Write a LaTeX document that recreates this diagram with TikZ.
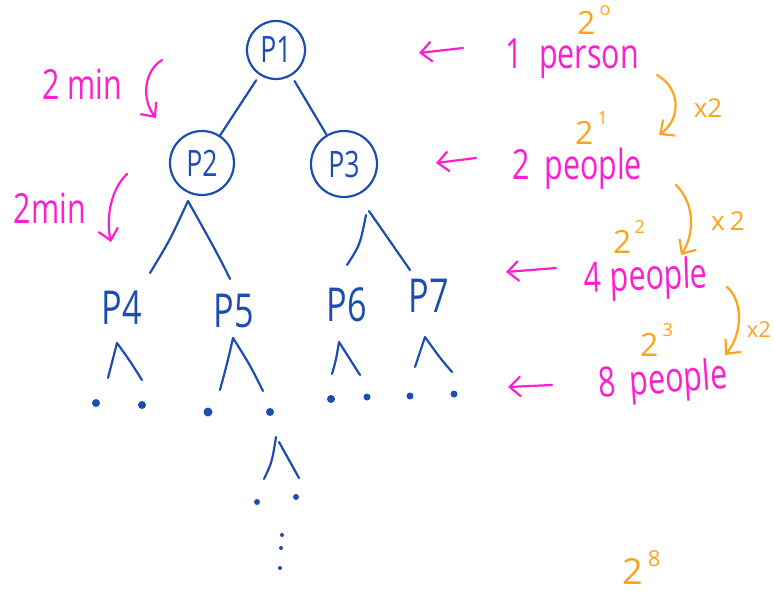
\documentclass[tikz,border=0pt]{standalone}
\usepackage{fontspec}
\setmainfont{Open Sans}
\usetikzlibrary{arrows.meta}
\definecolor{inkblue}{HTML}{1D4DB3}
\definecolor{inkpink}{HTML}{FF1ECF}
\definecolor{inkorange}{HTML}{FFA31A}
\newcommand{\powtwo}[3]{#1\hspace{#3}\raisebox{0.6em}{\fontsize{18}{18}\selectfont #2}}
\newcommand{\stretchtxt}[1]{\scalebox{0.95}[1.3]{#1}}
\begin{document}
\begin{tikzpicture}[x=1pt,y=-1pt,
  bline/.style={draw=inkblue, line width=2.2pt, line cap=round, line join=round},
  pcirc/.style={circle, draw=inkblue, line width=2.2pt, text=inkblue, inner sep=0pt,
    font=\fontsize{28}{28}\selectfont},
  plab/.style={text=inkblue, inner sep=0pt, font=\fontsize{36}{36}\selectfont},
  pinktext/.style={text=inkpink, inner sep=0pt, font=\fontsize{32}{32}\selectfont},
  orangetext/.style={text=inkorange, inner sep=0pt, font=\fontsize{32}{32}\selectfont},
  timestext/.style={text=inkorange, inner sep=0pt, font=\fontsize{26}{26}\selectfont},
  pinkarrow/.style={draw=inkpink, line width=2.2pt, line cap=round,
    -{Straight Barb[length=11pt,width=20pt,line width=2.2pt]}},
  orangearrow/.style={draw=inkorange, line width=2.2pt, line cap=round,
    -{Straight Barb[length=11pt,width=20pt,line width=2.2pt]}},
  bigdot/.style={circle, fill=inkblue, inner sep=0pt, minimum size=8pt},
  smalldot/.style={circle, fill=inkblue, inner sep=0pt, minimum size=4pt}
]
\useasboundingbox (0,0) rectangle (774,594);

% ---------- tree ----------
\node[pcirc, minimum size=58pt] (p1) at (276,50) {\stretchtxt{P1}};
\node[pcirc, minimum size=64pt] (p2) at (202,163) {\stretchtxt{P2}};
\node[pcirc, minimum size=66pt] (p3) at (344,164) {\stretchtxt{P3}};
\draw[bline, shorten <=6pt] (p1) -- (p2);
\draw[bline, shorten <=6pt] (p1) -- (p3);

\node[plab] (p4) at (122,308) {\stretchtxt{P4}};
\node[plab] (p5) at (234,311) {\stretchtxt{P5}};
\node[plab] (p6) at (347,305) {\stretchtxt{P6}};
\node[plab] (p7) at (429,296) {\stretchtxt{P7}};

% branches under P2 and P3
\coordinate (a2) at (188,201);
\coordinate (l2) at (150,273);
\coordinate (r2) at (230,279);
\draw[bline] (l2) .. controls (170,240) .. (a2) .. controls (210,240) and (222,262) .. (r2);
\coordinate (a3l) at (366,215);
\coordinate (l3) at (347,265);
\coordinate (a3r) at (369,211);
\coordinate (r3) at (410,270);
\draw[bline] (l3) .. controls (360,245) .. (a3l);
\draw[bline] (a3r) .. controls (390,240) .. (r3);

% small branches under P4..P7
\coordinate (a4) at (117,343); \coordinate (l4) at (108,378); \coordinate (r4) at (142,380);
\draw[bline] (l4) -- (a4) .. controls (128,358) .. (r4);
\coordinate (a5) at (233,338); \coordinate (l5) at (220,390); \coordinate (r5) at (263,391);
\draw[bline] (l5) .. controls (228,360) .. (a5) .. controls (250,365) .. (r5);
\coordinate (a6) at (339,342); \coordinate (l6) at (332,374); \coordinate (r6) at (360,375);
\draw[bline] (l6) .. controls (336,360) .. (a6) -- (r6);
\coordinate (a7) at (425,337); \coordinate (l7) at (415,367); \coordinate (r7) at (452,372);
\draw[bline] (l7) -- (a7) .. controls (440,358) .. (r7);

% dots
\node[bigdot] (d4a) at (96,403) {};
\node[bigdot] (d4b) at (142,405) {};
\node[bigdot, minimum size=9pt] (d5a) at (208,412) {};
\node[bigdot] (d5b) at (270,412) {};
\node[bigdot] (d6a) at (331,399) {};
\node[bigdot, minimum size=7pt] (d6b) at (367,397) {};
\node[bigdot, minimum size=7pt] (d7a) at (410,396) {};
\node[bigdot, minimum size=7pt] (d7b) at (454,394) {};

% branch below the right child of P5
\coordinate (a8) at (276,437); \coordinate (l8) at (264,479); \coordinate (r8) at (299,478);
\draw[bline] (l8) .. controls (272,462) .. (a8);
\draw[bline] (279,442) -- (r8);
\node[bigdot, minimum size=6pt] (d8a) at (257,502) {};
\node[bigdot, minimum size=6pt] (d8b) at (296,497) {};
\node[smalldot] (v1) at (282,535) {};
\node[smalldot] (v2) at (281,548) {};
\node[smalldot] (v3) at (280,568) {};

% ---------- left pink annotations ----------
\node[pinktext] (m1) at (82,84) {\stretchtxt{2 min}};
\node[pinktext] (m2) at (50,208) {\stretchtxt{2min}};
\coordinate (c1s) at (162,60); \coordinate (c1e) at (156,118);
\draw[pinkarrow] (c1s) .. controls (143,72) and (142,100) .. (c1e);
\coordinate (c2s) at (127,174); \coordinate (c2e) at (111,242);
\draw[pinkarrow] (c2s) .. controls (110,190) and (106,220) .. (c2e);

% ---------- right pink labels ----------
\node[pinktext, anchor=base] (t1) at (572,69) {\stretchtxt{1\hspace{0.55em}person}};
\node[pinktext, anchor=base] (t2) at (577,179) {\stretchtxt{2\hspace{0.5em}people}};
\node[pinktext, anchor=base, rotate=2] (t3) at (646,290) {\stretchtxt{4\hspace{0.3em}people}};
\node[pinktext, anchor=base, rotate=4] (t4) at (664,393) {\stretchtxt{8\hspace{0.45em}people}};

\coordinate (e1) at (463,48); \coordinate (f1) at (419,53);
\draw[pinkarrow] (e1) -- (f1);
\coordinate (e2) at (476,158); \coordinate (f2) at (436,163);
\draw[pinkarrow] (e2) -- (f2);
\coordinate (e3) at (556,268); \coordinate (f3) at (506,272);
\draw[pinkarrow] (e3) -- (f3);
\coordinate (e4) at (552,385); \coordinate (f4) at (508,387);
\draw[pinkarrow] (e4) -- (f4);

% ---------- orange powers and factors ----------
\node[orangetext, anchor=base west] (w0) at (577,35) {\powtwo{2}{o}{4pt}};
\node[orangetext, anchor=base west] (w1) at (575,144) {\powtwo{2}{1}{4pt}};
\node[orangetext, anchor=base west] (w2) at (613,253) {\powtwo{2}{2}{3pt}};
\node[orangetext, anchor=base west] (w3) at (640,356) {\powtwo{2}{3}{4pt}};
\node[orangetext, anchor=base west, font=\fontsize{36}{36}\selectfont] (w8) at (622,584) {2\hspace{5pt}\raisebox{0.5em}{\fontsize{22}{22}\selectfont 8}};

\node[timestext] (x1) at (708,108) {x2};
\node[timestext] (x2) at (728,221) {x\hspace{0.2em}2};
\node[timestext, font=\fontsize{22}{22}\selectfont] (x3) at (759,330) {x2};

\coordinate (g1s) at (657,75); \coordinate (g1e) at (659,135);
\draw[orangearrow] (g1s) .. controls (680,88) and (682,118) .. (g1e);
\coordinate (g2s) at (676,185); \coordinate (g2e) at (681,255);
\draw[orangearrow] (g2s) .. controls (696,205) and (694,235) .. (g2e);
\coordinate (g3s) at (727,287); \coordinate (g3e) at (725,355);
\draw[orangearrow] (g3s) .. controls (744,302) and (742,335) .. (g3e);
\end{tikzpicture}
\end{document}
